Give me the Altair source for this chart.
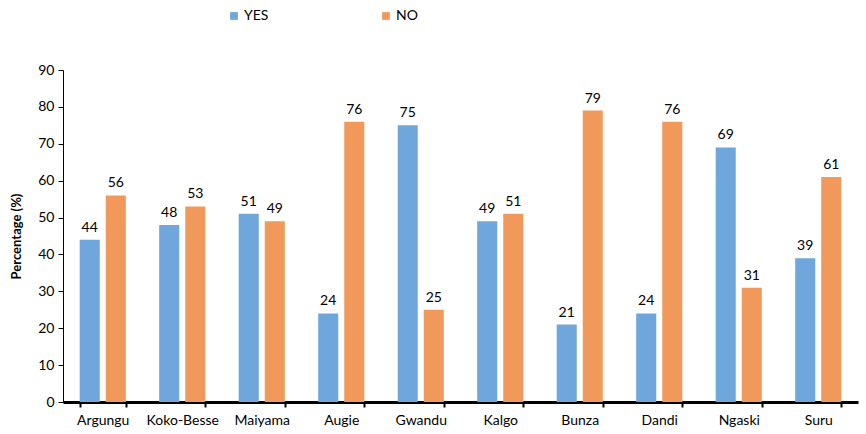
import altair as alt
import pandas as pd

districts = ["Argungu", "Koko-Besse", "Maiyama", "Augie", "Gwandu", "Kalgo", "Bunza", "Dandi", "Ngaski", "Suru"]
yes_vals = [44, 48, 51, 24, 75, 49, 21, 24, 69, 39]
no_vals = [56, 53, 49, 76, 25, 51, 79, 76, 31, 61]
series = ["YES", "NO"]
colors = ["#6fa6db", "#f1995a"]
y_ticks = [0, 10, 20, 30, 40, 50, 60, 70, 80, 90]

rows = []
for d, y, n in zip(districts, yes_vals, no_vals):
    rows.append({"District": d, "Answer": "YES", "Value": y})
    rows.append({"District": d, "Answer": "NO", "Value": n})
df = pd.DataFrame(rows)

FONT = "Lato"

x_enc = alt.X("District:N", sort=districts, title=None,
              scale=alt.Scale(paddingInner=0.42, paddingOuter=0.21),
              axis=alt.Axis(labelAngle=0, labelFontSize=14, labelFont=FONT, labelColor="black",
                            domainColor="black", domainWidth=3, tickColor="black", tickWidth=2,
                            tickSize=5, tickBand="extent", labelPadding=6, grid=False))
xo = alt.XOffset("Answer:N", sort=series, scale=alt.Scale(paddingInner=0.23))
y_enc = alt.Y("Value:Q", title="Percentage (%)",
              scale=alt.Scale(domain=[0, 90], nice=False),
              axis=alt.Axis(values=y_ticks, grid=False, labelFontSize=14, labelFont=FONT,
                            labelColor="black", domainColor="black", tickColor="black",
                            tickSize=5, labelPadding=4, labelOverlap=False,
                            titleFont=FONT, titleFontSize=13,
                            titleFontWeight="bold", titleColor="black", titlePadding=14))
color_enc = alt.Color("Answer:N", sort=series,
                      scale=alt.Scale(domain=series, range=colors),
                      legend=alt.Legend(title=None, orient="none", legendX=164, legendY=-61,
                                        direction="horizontal", symbolType="square",
                                        symbolSize=60, labelFontSize=14, labelFont=FONT,
                                        labelColor="black", columnPadding=110, symbolStrokeWidth=0,
                                        labelOffset=3))

base = alt.Chart(df).encode(x=x_enc, xOffset=xo, y=y_enc)
bars = base.mark_bar().encode(color=color_enc)
labels = base.mark_text(dy=-12, fontSize=14, font=FONT, color="black").encode(text="Value:Q")

chart = (bars + labels).properties(
    width=795, height=332,
    autosize=alt.AutoSizeParams(type="none"),
    padding={"left": 63, "top": 70, "right": 8, "bottom": 32},
    background="white",
).configure_view(stroke=None)

chart.save("out.html", embed_options={"renderer": "svg", "actions": False})
